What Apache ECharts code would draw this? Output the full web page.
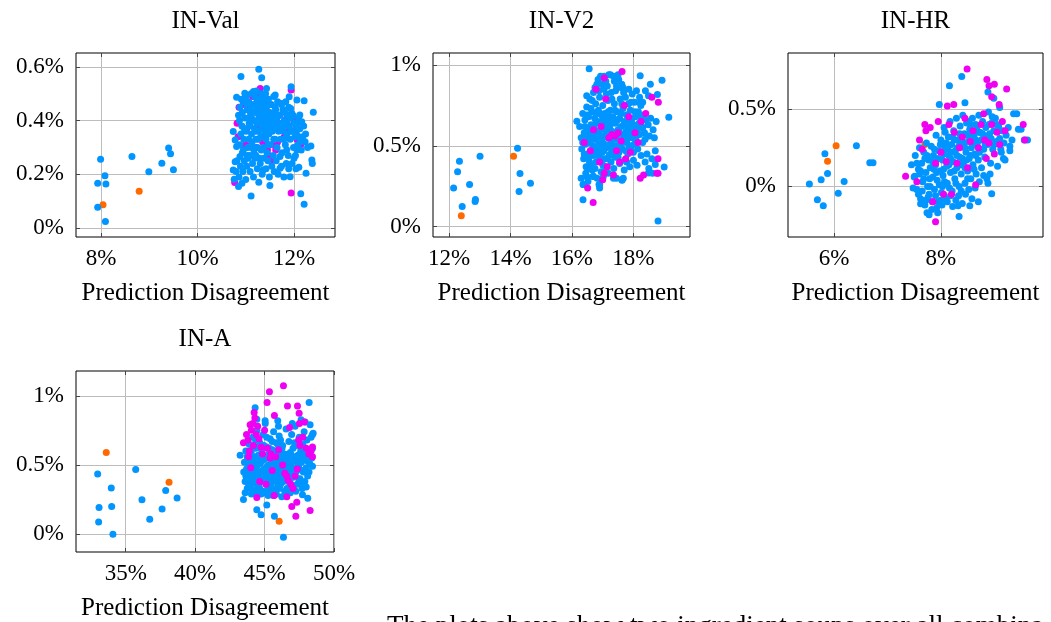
<!DOCTYPE html>
<html><head><meta charset="utf-8">
<script src="https://cdn.jsdelivr.net/npm/echarts@6/dist/echarts.min.js"></script>
<style>html,body{margin:0;padding:0;background:#fff}#c{width:1051px;height:622px}</style>
</head><body><div id="c"></div>
<script>
const titles = ['IN-Val','IN-V2','IN-HR','IN-A'];
const xName = 'Prediction Disagreement';
const xTicks = [[8,10,12],[12,14,16,18],[6,8],[35,40,45,50]];
const yTicks = [[0,0.2,0.4,0.6],[0,0.5,1],[0,0.5],[0,0.5,1]];
const xRange = [[7.48,12.85],[11.48,19.84],[5.14,9.91],[31.42,50]];
const yRange = [[-0.034,0.652],[-0.064,1.074],[-0.327,0.862],[-0.129,1.179]];
const caption = 'The plots above show two ingredient soups over all combina';

// ---------- IN-Val ----------
const valOrange = [[8.04,0.086],[8.79,0.137]];
const valMag = [[10.77,0.169],[11.94,0.130],[11.94,0.514],[11.30,0.52],[10.82,0.39],[10.84,0.34],[10.86,0.45],[11.40,0.31],[11.45,0.29],[11.18,0.27],[11.35,0.32],[11.52,0.25],[11.85,0.41],[11.76,0.39],[11.58,0.37],[11.28,0.50],[10.95,0.46],[11.10,0.43],[11.66,0.32],[11.22,0.30],[11.56,0.31],[11.88,0.36],[12.06,0.33],[12.14,0.31],[11.00,0.31],[11.02,0.37],[11.44,0.47],[11.70,0.42],[11.34,0.34],[11.14,0.49],[11.62,0.29],[11.80,0.34],[11.48,0.27],[11.25,0.38],[12.00,0.40]];
const valBlue = [[7.93,0.077],[7.99,0.256],[7.93,0.166],[8.08,0.194],[8.10,0.164],[8.09,0.024],[8.64,0.266],[8.99,0.209],[9.26,0.241],[9.40,0.298],[9.44,0.276],[9.50,0.217],
[11.27,0.591],[10.90,0.564],[11.33,0.560],[11.94,0.526],[12.40,0.431],[12.21,0.474],[12.06,0.477],[11.90,0.489],[10.81,0.487],[11.43,0.52],[11.16,0.508],[10.98,0.502],[11.61,0.495],[11.75,0.464],[12.12,0.421],[10.74,0.359],[10.78,0.328],[10.81,0.303],[10.88,0.266],[10.78,0.247],[10.74,0.216],[10.76,0.181],[10.85,0.154],[10.92,0.166],[11.11,0.119],[11.50,0.158],[11.36,0.216],[11.71,0.222],[11.92,0.191],[12.10,0.226],[12.25,0.204],[12.37,0.253],[12.38,0.240],[12.14,0.127],[12.21,0.088],[11.71,0.266],[11.85,0.291],[12.06,0.291],[12.23,0.321],[12.13,0.321],[12.02,0.340],[12.16,0.396],[12.06,0.390],[11.95,0.427],[11.93,0.445],[11.81,0.402],[12.35,0.305],
[10.85,0.42],[10.88,0.45],[10.92,0.38],[10.95,0.47],[10.96,0.33],[10.98,0.41],[11.00,0.49],[11.01,0.36],[11.03,0.44],[11.04,0.30],[11.06,0.47],[11.07,0.39],[11.08,0.27],[11.10,0.43],[11.11,0.50],[11.12,0.35],[11.13,0.32],[11.15,0.46],[11.16,0.40],[11.17,0.28],[11.18,0.37],[11.19,0.49],[11.20,0.43],[11.21,0.33],[11.22,0.51],[11.23,0.39],[11.24,0.30],[11.25,0.46],[11.26,0.36],[11.27,0.42],[11.28,0.48],[11.29,0.26],[11.30,0.39],[11.31,0.34],[11.32,0.45],[11.33,0.50],[11.34,0.37],[11.35,0.41],[11.36,0.30],[11.37,0.47],[11.38,0.43],[11.39,0.35],[11.40,0.39],[11.41,0.50],[11.42,0.33],[11.43,0.45],[11.44,0.28],[11.45,0.41],[11.46,0.37],[11.47,0.48],[11.48,0.35],[11.50,0.43],[11.51,0.31],[11.52,0.39],[11.53,0.46],[11.55,0.36],[11.56,0.42],[11.57,0.27],[11.58,0.49],[11.60,0.38],[11.61,0.33],[11.62,0.44],[11.64,0.40],[11.65,0.30],[11.66,0.47],[11.68,0.36],[11.70,0.42],[11.72,0.33],[11.73,0.39],[11.75,0.28],[11.77,0.44],[11.78,0.36],[11.80,0.40],[11.82,0.31],[11.83,0.47],[11.85,0.35],[11.87,0.42],[11.88,0.27],[11.90,0.38],[11.92,0.33],[11.94,0.41],[11.96,0.24],[11.97,0.36],[11.99,0.30],[12.01,0.39],[12.03,0.27],[12.05,0.35],[12.08,0.31],[12.09,0.41],[12.12,0.37],[12.15,0.29],[12.18,0.34],[12.20,0.38],[12.24,0.35],[12.28,0.30],
[10.80,0.21],[10.82,0.25],[10.86,0.19],[10.89,0.23],[10.93,0.28],[10.94,0.21],[10.97,0.25],[11.00,0.18],[11.02,0.23],[11.05,0.26],[11.09,0.21],[11.14,0.24],[11.16,0.19],[11.19,0.26],[11.24,0.22],[11.27,0.17],[11.30,0.24],[11.34,0.20],[11.38,0.26],[11.42,0.22],[11.46,0.25],[11.49,0.19],[11.54,0.23],[11.59,0.21],[11.63,0.25],[11.67,0.20],[11.74,0.23],[11.79,0.19],[11.84,0.24],[11.89,0.22],[12.00,0.26],[12.04,0.22],
[10.90,0.35],[10.93,0.43],[11.05,0.41],[11.09,0.38],[11.14,0.44],[11.20,0.36],[11.24,0.40],[11.29,0.44],[11.33,0.38],[11.37,0.40],[11.42,0.37],[11.46,0.43],[11.52,0.40],[11.57,0.38],[11.63,0.37],[11.69,0.39],[11.76,0.38],[11.81,0.43],[11.86,0.39],
[10.87,0.40],[10.91,0.48],[10.97,0.37],[11.03,0.46],[11.06,0.33],[11.12,0.41],[11.15,0.30],[11.19,0.45],[11.23,0.48],[11.26,0.33],[11.30,0.47],[11.32,0.29],[11.36,0.44],[11.39,0.48],[11.43,0.39],[11.47,0.31],[11.50,0.46],[11.54,0.42],[11.58,0.33],[11.61,0.45],[11.65,0.42],[11.70,0.37],[11.74,0.46],[11.79,0.33],[11.83,0.38],[11.89,0.45],[11.93,0.36],[11.98,0.42],[12.03,0.37],[12.10,0.34],[10.88,0.31],[10.95,0.29],[11.03,0.27],[11.12,0.30],[11.21,0.27]];

// ---------- IN-V2 ----------
const v2Orange = [[12.40,0.068],[14.10,0.435],[17.78,0.57],[17.15,0.42]];
const v2Mag = [[17.63,0.959],[16.69,0.150],[16.51,0.239],[18.76,0.33],[18.22,0.30],[18.33,0.32],[18.81,0.769],[16.78,0.85],[17.05,0.92],[17.10,0.79],[17.30,0.57],[17.40,0.56],[17.50,0.58],[17.20,0.55],[17.60,0.53],[16.90,0.40],[17.05,0.33],[17.15,0.37],[16.70,0.60],[16.60,0.47],[17.75,0.42],[17.85,0.68],[17.70,0.75],[18.05,0.58],[18.25,0.65],[18.40,0.70],[18.60,0.80],[18.80,0.42],[18.80,0.33],[17.55,0.40],[17.00,0.29],[17.35,0.32],[16.95,0.62],[17.45,0.47],[18.15,0.52],[17.90,0.46],[16.40,0.52]];
const v2Blue = [[12.15,0.239],[12.34,0.404],[12.28,0.340],[12.67,0.260],[13.01,0.435],[12.43,0.124],[12.85,0.155],[12.86,0.168],[14.23,0.485],[14.31,0.328],[14.28,0.218],[14.65,0.268],
[16.56,0.976],[16.16,0.652],[16.36,0.167],[16.36,0.26],[16.49,0.308],[16.70,0.311],[16.90,0.239],[16.90,0.26],[17.63,0.287],[17.67,0.30],[17.35,0.30],[18.49,0.332],[18.71,0.384],[19.00,0.369],[19.15,0.676],[18.93,0.905],[18.55,0.881],[18.22,0.933],[18.78,0.817],[18.49,0.81],[18.39,0.84],[18.22,0.766],[18.80,0.035],[18.71,0.47],
[16.25,0.62],[16.30,0.55],[16.32,0.48],[16.35,0.70],[16.38,0.42],[16.40,0.58],[16.42,0.66],[16.44,0.51],[16.46,0.37],[16.48,0.74],[16.50,0.45],[16.52,0.60],[16.54,0.68],[16.55,0.53],[16.57,0.40],[16.58,0.79],[16.60,0.47],[16.62,0.63],[16.63,0.57],[16.65,0.71],[16.66,0.35],[16.68,0.50],[16.70,0.83],[16.71,0.44],[16.72,0.61],[16.74,0.67],[16.75,0.54],[16.77,0.76],[16.78,0.40],[16.80,0.58],[16.81,0.88],[16.83,0.48],[16.84,0.65],[16.86,0.72],[16.87,0.52],[16.89,0.43],[16.90,0.80],[16.92,0.60],[16.93,0.93],[16.95,0.56],[16.96,0.69],[16.98,0.46],[17.00,0.75],[17.01,0.38],[17.03,0.63],[17.04,0.85],[17.06,0.51],[17.07,0.70],[17.09,0.42],[17.10,0.90],[17.12,0.58],[17.13,0.66],[17.15,0.49],[17.17,0.78],[17.18,0.55],[17.20,0.94],[17.21,0.44],[17.23,0.62],[17.25,0.72],[17.26,0.52],[17.28,0.83],[17.30,0.59],[17.31,0.47],[17.33,0.68],[17.35,0.93],[17.36,0.55],[17.38,0.76],[17.40,0.43],[17.41,0.64],[17.43,0.50],[17.45,0.87],[17.47,0.71],[17.48,0.57],[17.50,0.60],[17.52,0.91],[17.53,0.46],[17.55,0.67],[17.57,0.79],[17.58,0.53],[17.60,0.62],[17.62,0.88],[17.64,0.48],[17.66,0.73],[17.68,0.56],[17.70,0.65],[17.72,0.41],[17.74,0.80],[17.76,0.59],[17.78,0.52],[17.80,0.69],[17.82,0.45],[17.84,0.76],[17.86,0.61],[17.88,0.55],[17.90,0.72],[17.92,0.49],[17.94,0.66],[17.96,0.82],[17.98,0.58],[18.00,0.63],[18.02,0.51],[18.04,0.77],[18.06,0.68],[18.08,0.55],[18.10,0.84],[18.12,0.60],[18.14,0.48],[18.16,0.71],[18.18,0.64],[18.20,0.57],[18.24,0.75],[18.27,0.62],[18.30,0.52],[18.33,0.69],[18.36,0.58],[18.40,0.66],[18.44,0.45],[18.48,0.63],[18.52,0.56],[18.56,0.67],[18.60,0.42],[18.64,0.60],[18.68,0.55],[18.74,0.65],
[16.30,0.30],[16.38,0.26],[16.45,0.33],[16.52,0.28],[16.60,0.38],[16.68,0.31],[16.75,0.36],[16.82,0.30],[16.88,0.26],[16.95,0.34],[17.02,0.31],[17.10,0.37],[17.18,0.33],[17.27,0.40],[17.36,0.36],[17.45,0.30],[17.55,0.39],[17.63,0.29],[17.70,0.35],[17.78,0.40],[17.88,0.37],[18.00,0.41],[18.12,0.38],[18.25,0.44],[18.38,0.40],[18.50,0.36],[18.62,0.33],
[16.45,0.56],[16.58,0.52],[16.70,0.57],[16.85,0.55],[16.95,0.50],[17.05,0.56],[17.15,0.62],[17.25,0.57],[17.35,0.50],[17.45,0.54],[17.55,0.58],[17.65,0.52],[17.75,0.63],[17.85,0.58],[17.95,0.62],[16.62,0.73],[16.80,0.70],[17.00,0.66],[17.20,0.68],[17.40,0.72],[17.60,0.70],[17.80,0.64],[18.05,0.71],
[16.85,0.91],[16.95,0.88],[17.05,0.93],[17.15,0.87],[17.25,0.94],[17.38,0.90],[17.50,0.94],[17.58,0.86],[17.68,0.83],[16.75,0.86],[17.30,0.79],[17.85,0.85],[18.20,0.80],[18.30,0.77],
[16.35,0.52],[16.42,0.62],[16.50,0.69],[16.56,0.43],[16.64,0.54],[16.72,0.49],[16.78,0.64],[16.85,0.44],[16.92,0.70],[16.98,0.53],[17.04,0.47],[17.10,0.60],[17.18,0.71],[17.22,0.50],[17.28,0.65],[17.34,0.45],[17.42,0.58],[17.48,0.66],[17.56,0.50],[17.62,0.76],[17.70,0.55],[17.78,0.69],[17.86,0.50],[17.92,0.77],[18.00,0.55],[18.08,0.62],[18.15,0.57],[18.22,0.68],[18.30,0.61],[18.38,0.54],[16.48,0.81],[16.66,0.78],[16.88,0.84],[17.12,0.82],[17.42,0.84],[17.66,0.86],[16.40,0.45],[16.55,0.36],[16.75,0.45],[17.00,0.42],[17.25,0.45],[17.50,0.43],[17.75,0.47],[18.00,0.46]];

// ---------- IN-HR ----------
const hrOrange = [[5.88,0.162],[6.04,0.263],[7.70,0.27],[8.55,0.30]];
const hrMag = [[8.49,0.759],[8.86,0.69],[8.90,0.65],[9.00,0.66],[8.95,0.58],[9.23,0.63],[9.09,0.53],[8.12,0.52],[8.24,0.53],[9.54,0.40],[9.57,0.30],[7.34,0.065],[7.90,-0.228],
[7.70,0.40],[7.72,0.36],[7.65,0.24],[7.60,0.30],[7.80,0.38],[7.55,0.03],[8.00,0.22],[8.10,0.16],[8.20,-0.05],[8.25,0.35],[8.35,0.25],[8.45,0.44],[8.55,0.29],[8.60,0.36],[8.70,0.25],[8.75,0.40],[8.80,0.47],[8.85,0.18],[8.90,0.28],[8.95,0.40],[9.00,0.21],[9.05,0.35],[9.15,0.42],[9.10,0.27],[8.40,0.32],[8.15,0.40],[7.90,0.15],[8.05,-0.05],[8.65,0.01],[7.85,-0.10],[8.50,0.12],[7.95,0.42],[8.30,0.15],[9.20,0.36],[8.82,0.30]];
const hrBlue = [[5.54,0.016],[5.69,-0.086],[5.80,-0.125],[5.76,0.043],[5.83,0.211],[5.88,0.084],[6.08,-0.045],[6.19,0.032],[6.42,0.263],[6.67,0.153],[6.73,0.153],
[7.45,0.14],[7.50,0.06],[7.52,0.20],[7.55,-0.02],[7.58,0.11],[7.60,0.25],[7.62,-0.08],[7.64,0.15],[7.66,0.03],[7.68,0.22],[7.70,-0.12],[7.72,0.09],[7.73,0.28],[7.75,0.00],[7.77,0.17],[7.78,-0.05],[7.80,0.12],[7.82,0.26],[7.83,-0.15],[7.85,0.06],[7.86,0.20],[7.88,-0.02],[7.90,0.14],[7.91,0.33],[7.93,0.04],[7.95,-0.10],[7.96,0.23],[7.98,0.10],[8.00,0.30],[8.01,-0.04],[8.03,0.17],[8.04,0.07],[8.06,0.38],[8.08,0.25],[8.09,-0.08],[8.11,0.13],[8.12,0.02],[8.14,0.32],[8.15,0.20],[8.17,0.42],[8.18,0.09],[8.20,0.27],[8.21,-0.03],[8.23,0.16],[8.24,0.36],[8.26,0.05],[8.27,0.23],[8.29,0.44],[8.30,0.12],[8.32,0.30],[8.33,-0.06],[8.35,0.19],[8.36,0.39],[8.38,0.08],[8.39,0.26],[8.41,0.46],[8.42,0.15],[8.44,0.34],[8.45,0.02],[8.47,0.22],[8.48,0.41],[8.50,0.10],[8.51,0.29],[8.53,0.18],[8.54,0.37],[8.56,0.05],[8.57,0.25],[8.59,0.44],[8.60,0.14],[8.62,0.32],[8.63,0.21],[8.65,0.40],[8.66,0.08],[8.68,0.28],[8.70,0.17],[8.71,0.46],[8.73,0.35],[8.75,0.24],[8.76,0.12],[8.78,0.42],[8.80,0.30],[8.82,0.19],[8.84,0.38],[8.86,0.05],[8.87,0.27],[8.89,0.48],[8.91,0.34],[8.93,0.15],[8.95,0.41],[8.97,0.24],[8.99,0.36],[9.02,0.44],[9.04,0.29],[9.06,0.13],[9.08,0.39],[9.10,0.31],[9.13,0.22],[9.15,0.36],[9.18,0.28],[9.22,0.33],[9.26,0.38],
[7.55,0.15],[7.60,0.08],[7.65,-0.03],[7.70,0.18],[7.74,-0.17],[7.79,0.05],[7.84,-0.10],[7.87,0.11],[7.92,-0.14],[7.97,0.01],[8.02,-0.12],[8.07,0.03],[8.12,-0.10],[8.16,-0.01],[8.22,-0.13],[8.28,-0.09],[8.34,0.00],[8.40,-0.11],[8.46,-0.05],[8.52,-0.02],[8.58,-0.08],[8.64,-0.01],[8.72,0.03],[8.80,0.07],[8.88,0.02],
[7.95,0.18],[8.05,0.21],[8.10,0.28],[8.15,0.14],[8.20,0.22],[8.25,0.30],[8.30,0.20],[8.35,0.27],[8.40,0.18],[8.45,0.25],[8.50,0.33],[8.55,0.20],[8.60,0.27],[8.65,0.30],[8.70,0.35],[8.75,0.30],[8.80,0.24],[8.85,0.32],[8.25,0.10],[8.45,0.12],[8.65,0.20],[8.05,0.11],[7.85,0.16],[8.35,0.34],[8.55,0.40],
[8.39,0.71],[8.16,0.65],[8.88,0.61],[8.99,0.57],[7.97,0.53],[8.45,0.54],[9.36,0.47],[9.45,0.37],[9.56,0.30],[9.33,0.30],[9.29,0.26],[9.29,0.23],[9.17,0.18],[9.20,0.17],[7.51,0.065],[7.48,-0.01],[7.62,-0.112],[7.76,-0.07],[7.78,-0.183],[8.34,-0.194],[7.94,-0.17],[8.54,-0.125],[8.70,-0.10],[8.95,-0.047],[8.32,-0.125],[9.62,0.30],[9.42,0.47],[9.50,0.37],[9.10,0.51],[8.96,0.45],
[7.62,0.10],[7.68,0.05],[7.74,0.20],[7.80,0.00],[7.88,0.24],[7.92,0.09],[7.99,0.27],[8.03,0.00],[8.08,0.35],[8.13,0.24],[8.18,0.18],[8.22,0.32],[8.28,0.02],[8.31,0.25],[8.37,0.14],[8.43,0.28],[8.48,0.17],[8.52,0.42],[8.58,0.33],[8.62,0.11],[8.67,0.37],[8.72,0.22],[8.78,0.34],[8.83,0.27],[8.90,0.40],[8.94,0.31],[9.00,0.27],[9.05,0.40],[7.58,-0.05],[7.72,-0.09],[7.90,-0.06],[8.00,-0.09],[8.18,-0.06],[8.38,-0.03],[8.50,0.05],[8.92,0.08],[9.12,0.24]];

// ---------- IN-A ----------
const aOrange = [[33.60,0.59],[38.12,0.375],[46.05,0.093],[44.60,0.63]];
const aMag = [[46.36,1.072],[45.35,1.029],[45.18,0.952],[46.65,0.926],[47.37,0.926],[47.49,0.874],[45.71,0.857],[44.25,0.88],[43.96,0.79],[47.51,0.80],[47.87,0.81],[48.45,0.63],[48.35,0.60],[48.45,0.56],[43.48,0.66],[44.44,0.265],[46.96,0.20],[47.32,0.23],[47.25,0.13],[48.28,0.17],[45.69,0.28],[46.60,0.27],
[43.70,0.72],[43.80,0.68],[43.90,0.60],[44.05,0.75],[44.15,0.80],[44.30,0.84],[44.40,0.72],[44.50,0.78],[44.60,0.69],[44.75,0.63],[44.85,0.58],[45.00,0.75],[45.20,0.62],[45.40,0.55],[45.55,0.46],[45.45,0.58],[45.80,0.56],[46.00,0.61],[46.30,0.50],[46.45,0.44],[46.70,0.39],[46.90,0.36],[47.05,0.33],[47.20,0.42],[47.35,0.47],[47.55,0.64],[47.75,0.70],[48.00,0.62],[48.20,0.58],[44.00,0.48],[44.65,0.38],[45.10,0.36],[44.20,0.64],[43.85,0.56],[46.80,0.77],[47.45,0.68],[46.60,0.42]];
const aBlue = [[32.98,0.434],[33.08,0.193],[33.05,0.088],[33.96,0.334],[33.99,0.200],[34.08,0.000],[35.72,0.468],[36.17,0.248],[36.73,0.107],[37.62,0.181],[37.88,0.315],[38.70,0.262],
[43.50,0.45],[43.55,0.52],[43.60,0.38],[43.65,0.60],[43.70,0.47],[43.75,0.33],[43.80,0.55],[43.85,0.42],[43.90,0.65],[43.95,0.50],[44.00,0.36],[44.05,0.58],[44.10,0.44],[44.15,0.70],[44.20,0.31],[44.25,0.53],[44.30,0.40],[44.35,0.62],[44.40,0.48],[44.45,0.75],[44.50,0.35],[44.55,0.57],[44.60,0.43],[44.65,0.66],[44.70,0.51],[44.75,0.29],[44.80,0.60],[44.85,0.46],[44.90,0.72],[44.95,0.38],[45.00,0.54],[45.05,0.80],[45.10,0.42],[45.15,0.63],[45.20,0.49],[45.25,0.33],[45.30,0.58],[45.35,0.45],[45.40,0.69],[45.45,0.37],[45.50,0.52],[45.55,0.61],[45.60,0.43],[45.65,0.74],[45.70,0.31],[45.75,0.55],[45.80,0.47],[45.85,0.66],[45.90,0.39],[45.95,0.57],[46.00,0.50],[46.05,0.71],[46.10,0.35],[46.15,0.60],[46.20,0.44],[46.25,0.53],[46.30,0.64],[46.35,0.38],[46.40,0.48],[46.45,0.58],[46.50,0.42],[46.55,0.76],[46.60,0.33],[46.65,0.55],[46.70,0.46],[46.75,0.67],[46.80,0.37],[46.85,0.59],[46.90,0.50],[46.95,0.72],[47.00,0.41],[47.05,0.62],[47.10,0.32],[47.15,0.54],[47.20,0.78],[47.25,0.45],[47.30,0.64],[47.35,0.36],[47.40,0.57],[47.45,0.49],[47.50,0.70],[47.55,0.40],[47.60,0.60],[47.65,0.52],[47.70,0.33],[47.75,0.65],[47.80,0.45],[47.85,0.74],[47.90,0.38],[47.95,0.56],[48.00,0.48],[48.05,0.68],[48.10,0.42],[48.15,0.59],[48.25,0.51],[48.35,0.70],[48.45,0.62],
[43.70,0.40],[43.80,0.48],[43.90,0.44],[44.00,0.52],[44.10,0.37],[44.20,0.46],[44.30,0.55],[44.40,0.41],[44.50,0.50],[44.60,0.36],[44.70,0.45],[44.80,0.53],[44.90,0.40],[45.00,0.47],[45.10,0.56],[45.20,0.39],[45.30,0.50],[45.40,0.44],[45.50,0.34],[45.60,0.53],[45.70,0.46],[45.80,0.38],[45.90,0.49],[46.00,0.43],[46.10,0.53],[46.20,0.37],[46.30,0.47],[46.40,0.41],[46.50,0.52],[44.15,0.62],[44.35,0.68],[44.55,0.63],[44.75,0.55],[44.95,0.64],[45.15,0.70],[45.35,0.62],[45.55,0.67],[45.75,0.60],[45.95,0.65],[46.15,0.68],[46.35,0.57],[43.60,0.30],[43.85,0.34],[44.05,0.29],[44.25,0.32],[44.45,0.30],[44.65,0.33],[44.85,0.31],[45.05,0.30],[45.25,0.28],[45.45,0.31],[45.85,0.29],[46.05,0.33],[46.45,0.31],[46.85,0.30],[47.25,0.31],[47.65,0.37],[48.00,0.34],
[48.21,0.952],[44.32,0.914],[45.04,0.82],[44.44,0.83],[45.95,0.82],[47.63,0.826],[47.92,0.81],[48.28,0.79],[48.45,0.72],[48.45,0.49],[43.24,0.57],[43.48,0.25],[44.44,0.176],[44.75,0.14],[45.16,0.21],[45.71,0.129],[46.36,-0.022],[48.11,0.26],[47.73,0.284],[45.64,0.28],[46.24,0.27],[48.50,0.73],[46.00,0.78],[47.00,0.80],
[43.65,0.42],[43.75,0.56],[43.95,0.40],[44.05,0.46],[44.15,0.53],[44.25,0.38],[44.35,0.49],[44.45,0.56],[44.55,0.44],[44.65,0.51],[44.75,0.39],[44.85,0.63],[44.95,0.46],[45.05,0.39],[45.15,0.48],[45.25,0.57],[45.35,0.35],[45.45,0.49],[45.55,0.40],[45.65,0.57],[45.75,0.41],[45.85,0.51],[45.95,0.34],[46.05,0.45],[46.15,0.40],[46.25,0.62],[46.35,0.46],[46.55,0.50],[46.65,0.40],[46.75,0.52],[46.85,0.44],[46.95,0.57],[47.05,0.48],[47.15,0.66],[47.35,0.52],[47.45,0.40],[47.55,0.55],[47.70,0.46],[47.85,0.58],[48.05,0.53],[48.20,0.45],[48.40,0.55]];

const orangeSets = [valOrange, v2Orange, hrOrange, aOrange];
const magSets = [valMag, v2Mag, hrMag, aMag];
const blueSets = [valBlue, v2Blue, hrBlue, aBlue];

// ---------- chart ----------
const FONT = '"Liberation Serif", "Times New Roman", serif';
const BLUE = '#0095ff', MAG = '#f000f0', ORANGE = '#ff6a00';
const magOnTop = [false, true, true, true];
const grids = [
  {left:76, top:53, width:259, height:184},
  {left:433, top:53, width:257, height:184},
  {left:788, top:53, width:255, height:184},
  {left:76, top:371, width:258, height:182}
];
const pct = v => v + '%';
const xAxes = [], yAxes = [], series = [], graphic = [];
grids.forEach((g, i) => {
  const tick = {inside:true, length:4, lineStyle:{color:'#444', width:1}};
  xAxes.push({gridIndex:i, type:'value', min:xRange[i][0], max:xRange[i][1], position:'bottom',
    axisLine:{show:false, onZero:false},
    axisTick:Object.assign({customValues:xTicks[i]}, tick),
    axisLabel:{customValues:xTicks[i], formatter:pct, color:'#000', fontFamily:FONT, fontSize:23, margin:10},
    splitLine:{show:true, lineStyle:{color:'#bdbdbd', width:1}},
    name:xName, nameLocation:'middle', nameGap:44,
    nameTextStyle:{color:'#000', fontFamily:FONT, fontSize:25}});
  xAxes.push({gridIndex:i, type:'value', min:xRange[i][0], max:xRange[i][1], position:'top',
    axisLine:{show:false, onZero:false},
    axisTick:Object.assign({customValues:xTicks[i]}, tick),
    axisLabel:{show:false, customValues:xTicks[i]}, splitLine:{show:false}});
  yAxes.push({gridIndex:i, type:'value', min:yRange[i][0], max:yRange[i][1], position:'left',
    axisLine:{show:false, onZero:false},
    axisTick:Object.assign({customValues:yTicks[i]}, tick),
    axisLabel:{customValues:yTicks[i], formatter:pct, color:'#000', fontFamily:FONT, fontSize:23, margin:12},
    splitLine:{show:true, lineStyle:{color:'#bdbdbd', width:1}}});
  yAxes.push({gridIndex:i, type:'value', min:yRange[i][0], max:yRange[i][1], position:'right',
    axisLine:{show:false, onZero:false},
    axisTick:Object.assign({customValues:yTicks[i]}, tick),
    axisLabel:{show:false, customValues:yTicks[i]}, splitLine:{show:false}});
  const xi = i * 2, yi = i * 2;
  const layers = magOnTop[i]
    ? [[orangeSets[i], ORANGE], [blueSets[i], BLUE], [magSets[i], MAG]]
    : [[orangeSets[i], ORANGE], [magSets[i], MAG], [blueSets[i], BLUE]];
  layers.forEach(([d, c]) => {
    series.push({type:'scatter', xAxisIndex:xi, yAxisIndex:yi, data:d, symbol:'circle', symbolSize:7,
      itemStyle:{color:c, opacity:1}, silent:true});
  });
  graphic.push({type:'text', x:g.left + g.width / 2, y:g.top - 32, silent:true,
    style:{text:titles[i], font:'25px ' + FONT, fill:'#000', align:'center', verticalAlign:'middle',
      textAlign:'center', textVerticalAlign:'middle'}});
});
graphic.push({type:'text', x:387, y:613, silent:true,
  style:{text:caption, font:'27px ' + FONT, fill:'#000', align:'left', verticalAlign:'top',
    textAlign:'left', textVerticalAlign:'top'}});

const chart = echarts.init(document.getElementById('c'), null, {renderer:'canvas'});
chart.setOption({
  animation:false,
  backgroundColor:'#fff',
  grid:grids.map(g => Object.assign({show:true, borderColor:'#000', borderWidth:1, backgroundColor:'transparent', containLabel:false}, g)),
  xAxis:xAxes, yAxis:yAxes, series:series, graphic:graphic
});
</script></body></html>
